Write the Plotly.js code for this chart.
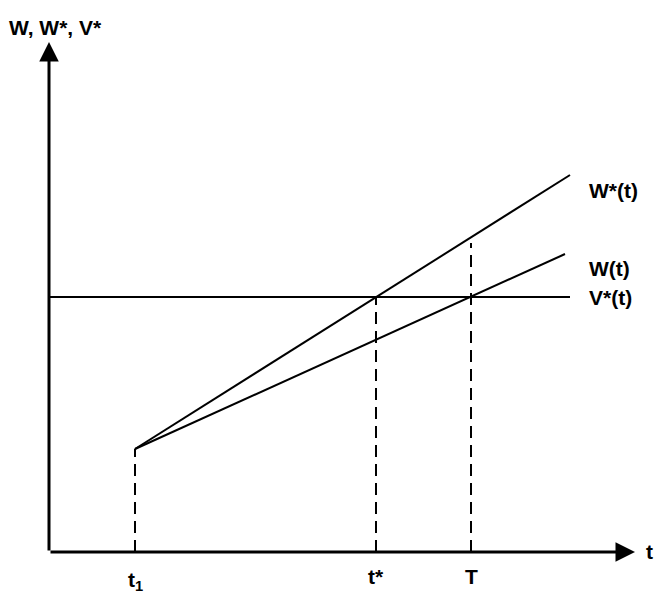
<!DOCTYPE html>
<html><head><meta charset="utf-8">
<script src="https://cdn.plot.ly/plotly-3.0.1.min.js"></script>
<style>html,body{margin:0;padding:0;background:#fff}</style>
</head><body><div id="chart" style="width:654px;height:592px"></div>
<script>
// Time points (arbitrary units along t-axis)
var tStart = 86, tStar = 327, tT = 422, tEnd = 521, tEndW = 516, tAxisEnd = 586;
// Values
var w0 = 103;               // W = W* at t1
var WstarEnd = 377;         // W*(t) at tEnd
var WEnd = 298;             // W(t) at tEndW
var Vstar = 255;            // V*(t) constant
var yAxisEnd = 510;
var TdashTop = 309;
var labels = {title:'W, W*, V*', Wstar:'W*(t)', W:'W(t)', V:'V*(t)', t:'t', t1:'t<sub>1</sub>', tstar:'t*', T:'T'};

var black = '#000';
var solid = {color: black, width: 2};
var dash = {color: black, width: 2, dash: '12px,7px'};

var traces = [
  {x:[tStart, tEnd], y:[w0, WstarEnd], mode:'lines', line:solid},
  {x:[tStart, tEndW], y:[w0, WEnd], mode:'lines', line:solid},
  {x:[0, tEnd], y:[Vstar, Vstar], mode:'lines', line:solid},
  {x:[tStart, tStart], y:[0, w0], mode:'lines', line:dash},
  {x:[tStar, tStar], y:[0, Vstar], mode:'lines', line:dash},
  {x:[tT, tT], y:[0, TdashTop], mode:'lines', line:dash}
];

var f = {family:'Liberation Sans, Arial, sans-serif', size:21, color:black};
function txt(x, y, text, xa, ya){
  return {x:x, y:y, xref:'x', yref:'y', text:'<b>'+text+'</b>', showarrow:false, xanchor:xa||'center', yanchor:ya||'middle', font:f};
}
var ann = [
  // axes arrows
  {x:0, y:yAxisEnd, ax:0, ay:0, xref:'x', yref:'y', axref:'x', ayref:'y', showarrow:true, arrowhead:2, arrowsize:1.3, arrowwidth:3, arrowcolor:black, text:''},
  {x:tAxisEnd, y:0, ax:0, ay:0, xref:'x', yref:'y', axref:'x', ayref:'y', showarrow:true, arrowhead:2, arrowsize:1.3, arrowwidth:3, arrowcolor:black, text:''},
  txt(-42, 525, labels.title, 'left'),
  txt(538, 362, labels.Wstar, 'left'),
  txt(538, 284, labels.W, 'left'),
  txt(538, 255, labels.V, 'left'),
  txt(600, 1, labels.t, 'center'),
  txt(tStart, -29, labels.t1, 'center'),
  txt(tStar, -24, labels.tstar, 'center'),
  txt(tT, -24, labels.T, 'center')
];

var layout = {
  width:654, height:592,
  margin:{l:0, r:0, t:0, b:0},
  paper_bgcolor:'#fff', plot_bgcolor:'#fff',
  showlegend:false,
  xaxis:{range:[-49, 605], visible:false, fixedrange:true},
  yaxis:{range:[-40, 552], visible:false, fixedrange:true},
  annotations: ann
};
Plotly.newPlot('chart', traces, layout, {displayModeBar:false, staticPlot:true});
</script>
</body></html>
